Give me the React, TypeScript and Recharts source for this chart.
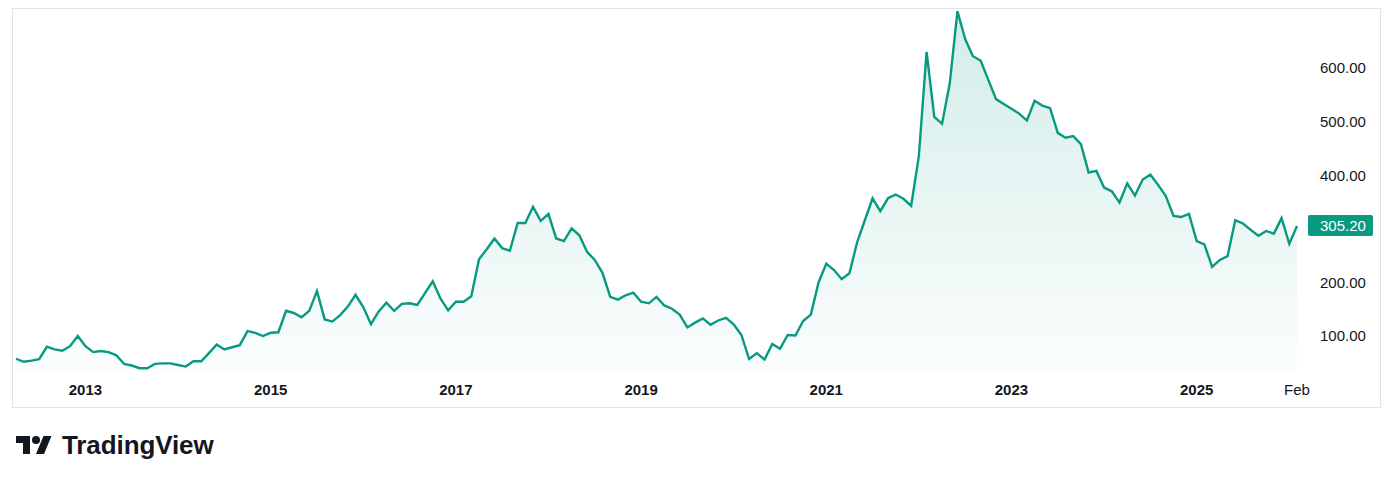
import React from 'react';
import { AreaChart, Area, XAxis, YAxis, ReferenceLine } from 'recharts';

// monthly closes, Apr 2012 .. Feb 2026
const START_YEAR = 2012;
const START_MONTH = 4;

const close2012 = [57.6, 52, 54, 57, 80, 75, 72.6, 81, 100];
const close2013 = [81, 70, 72, 70, 64, 48, 45, 40, 40, 48, 49, 49];
const close2014 = [46, 43, 53, 53, 68, 84, 75, 79, 83, 109, 106, 100];
const close2015 = [106, 107, 147, 143, 135, 147, 184, 131, 127, 139, 155, 177];
const close2016 = [154, 122, 146, 162, 147, 160, 161, 158, 180, 202, 170, 148];
const close2017 = [164, 164, 174, 243, 262, 282, 264, 259, 311, 311, 341, 315];
const close2018 = [328, 282, 277, 301, 288, 257, 242, 218, 173, 168, 176, 181];
const close2019 = [164, 161, 173, 157, 151, 140, 116, 125, 133, 121, 129, 134];
const close2020 = [122, 102, 57, 68, 56, 85, 76, 102, 101, 128, 140, 200];
const close2021 = [235, 223, 206, 217, 275, 316, 357, 333, 357, 364, 356, 343];
const close2022 = [436, 630, 509, 496, 571, 706, 654, 622, 614, 578, 542, 533];
const close2023 = [524, 515, 502, 539, 530, 525, 479, 470, 473, 458, 405, 408];
const close2024 = [377, 370, 349, 385, 362, 392, 401, 382, 361, 324, 322, 328];
const close2025 = [277, 271, 229, 242, 249, 316, 310, 298, 287, 296, 291, 320];
const close2026 = [272, 305.2];

const closes = [
  ...close2012, ...close2013, ...close2014, ...close2015, ...close2016,
  ...close2017, ...close2018, ...close2019, ...close2020, ...close2021,
  ...close2022, ...close2023, ...close2024, ...close2025, ...close2026,
];

const X_LABELS: Record<string, string> = {
  '2013-01': '2013',
  '2015-01': '2015',
  '2017-01': '2017',
  '2019-01': '2019',
  '2021-01': '2021',
  '2023-01': '2023',
  '2025-01': '2025',
  '2026-02': 'Feb',
};
const Y_TICKS = [100, 200, 400, 500, 600];
const LAST_PRICE = 305.2;

const GREEN = '#089981';
const TEXT = '#131722';
const FONT = '"Liberation Sans", Arial, sans-serif';

const data = closes.map((close, i) => {
  const m = START_MONTH - 1 + i;
  const year = START_YEAR + Math.floor(m / 12);
  const month = (m % 12) + 1;
  return { date: `${year}-${String(month).padStart(2, '0')}`, close };
});

const XTick = (props: any) => {
  const { x, y, payload } = props;
  const label = X_LABELS[payload.value];
  if (!label) return <g />;
  return (
    <text
      x={x}
      y={y + 25}
      textAnchor="middle"
      fontSize={15}
      fontFamily={FONT}
      fontWeight={label === 'Feb' ? 400 : 700}
      fill={TEXT}
    >
      {label}
    </text>
  );
};

const PriceTag = (props: any) => {
  const vb = props.viewBox || {};
  const left = vb.x + vb.width + 11;
  return (
    <g>
      <rect x={left} y={vb.y - 11} width={65} height={21} rx={2} fill={GREEN} />
      <text x={left + 12} y={vb.y + 5} fontSize={15} fontFamily={FONT} fill="#ffffff">
        {LAST_PRICE.toFixed(2)}
      </text>
    </g>
  );
};

const Logo = () => (
  <div style={{ position: 'absolute', left: 16, top: 430, display: 'flex', alignItems: 'center' }}>
    <svg width={36} height={28} viewBox="0 0 36 28">
      <path d="M14 22H7V11H0V4h14v18z" fill={TEXT} />
      <circle cx={20} cy={8} r={4} fill={TEXT} />
      <path d="M28 22h-8l7.5-18h8L28 22z" fill={TEXT} />
    </svg>
    <span
      style={{
        marginLeft: 10,
        fontFamily: FONT,
        fontWeight: 700,
        fontSize: 26,
        color: TEXT,
        letterSpacing: -0.1,
      }}
    >
      TradingView
    </span>
  </div>
);

export default function App() {
  return (
    <div style={{ position: 'absolute', left: 0, top: 0, width: 1394, height: 483, background: '#fff' }}>
      <div style={{ position: 'absolute', left: 12, top: 8 }}>
        <AreaChart width={1369} height={399} data={data} margin={{ top: 0, right: 0, bottom: 0, left: 4 }}>
          <defs>
            <linearGradient id="fillGrad" x1="0" y1="0" x2="0" y2="1">
              <stop offset="0%" stopColor={GREEN} stopOpacity={0.3} />
              <stop offset="100%" stopColor={GREEN} stopOpacity={0.03} />
            </linearGradient>
          </defs>
          <XAxis
            dataKey="date"
            interval={0}
            height={37}
            axisLine={false}
            tickLine={false}
            tickSize={0}
            tickMargin={0}
            tick={<XTick />}
          />
          <YAxis
            orientation="right"
            type="number"
            width={84}
            domain={[36.6, 712]}
            allowDataOverflow
            ticks={Y_TICKS}
            tickFormatter={(v: number) => v.toFixed(2)}
            axisLine={false}
            tickLine={false}
            tickSize={0}
            tickMargin={23}
            tick={{ fill: TEXT, fontSize: 15, fontFamily: FONT }}
          />
          <Area
            type="linear"
            dataKey="close"
            stroke={GREEN}
            strokeWidth={2.4}
            fill="url(#fillGrad)"
            dot={false}
            activeDot={false}
            isAnimationActive={false}
          />
          <ReferenceLine y={LAST_PRICE} stroke="none" label={<PriceTag />} />
        </AreaChart>
      </div>
      <div
        style={{
          position: 'absolute',
          left: 12,
          top: 8,
          width: 1369,
          height: 400,
          border: '1px solid #e0e3eb',
          boxSizing: 'border-box',
          pointerEvents: 'none',
        }}
      />
      <Logo />
    </div>
  );
}
